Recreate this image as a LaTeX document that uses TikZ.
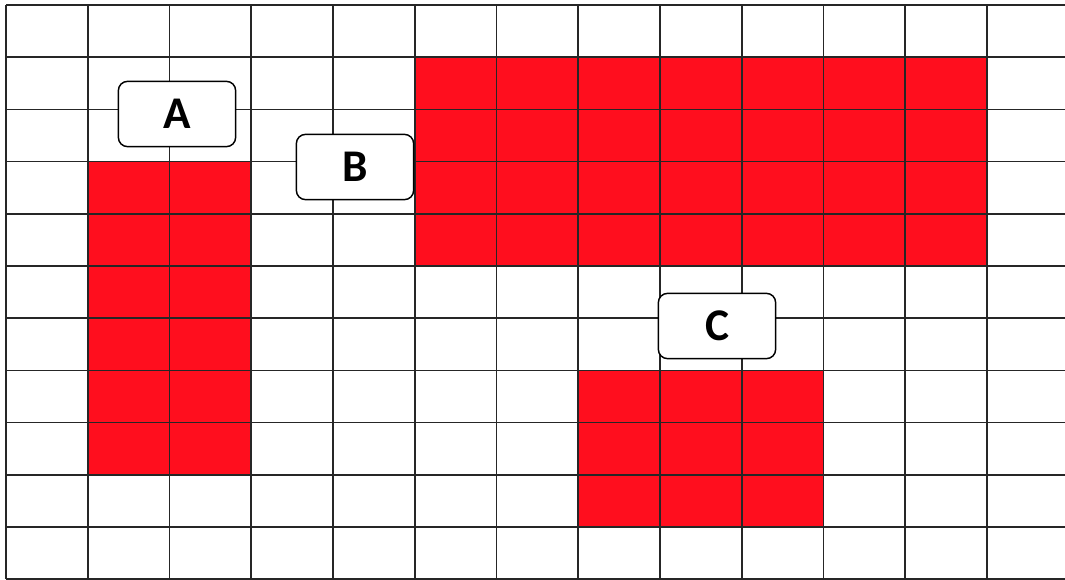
\documentclass[tikz,border=0pt]{standalone}
\usepackage{fontspec}
\setmainfont{Carlito}
\usetikzlibrary{positioning}
\definecolor{cellred}{RGB}{255,14,30}

\begin{document}
\begin{tikzpicture}[
    x=0.75pt, y=-0.75pt,
    gridline/.style={line width=1.2pt, black!85},
    block/.style={fill=cellred},
    tagbox/.style={draw, line width=1.1pt, rounded corners=7pt, fill=white, minimum width=88pt, minimum height=49pt, inner sep=0pt, font=\fontsize{34}{38}\selectfont\bfseries}
]
\useasboundingbox (0,0) rectangle (1065,580);

% Red blocks
\fill[block] (87.75,161.6) rectangle (250.5,474.8);
\fill[block] (414.75,57.2) rectangle (987,266);
\fill[block] (578.25,370.4) rectangle (823.5,527);

% Grid
\foreach \i in {0,...,13}
  \draw[gridline] ({6+81.75*\i},5) -- ({6+81.75*\i},579.2);
\foreach \j in {0,...,11}
  \draw[gridline] (6,{5+52.2*\j}) -- (1070,{5+52.2*\j});

% Labels
\node[tagbox] (A) at (177,114) {A};
\node[tagbox] (B) at (355,167) {B};
\node[tagbox] (C) at (717,326) {C};

\end{tikzpicture}
\end{document}
